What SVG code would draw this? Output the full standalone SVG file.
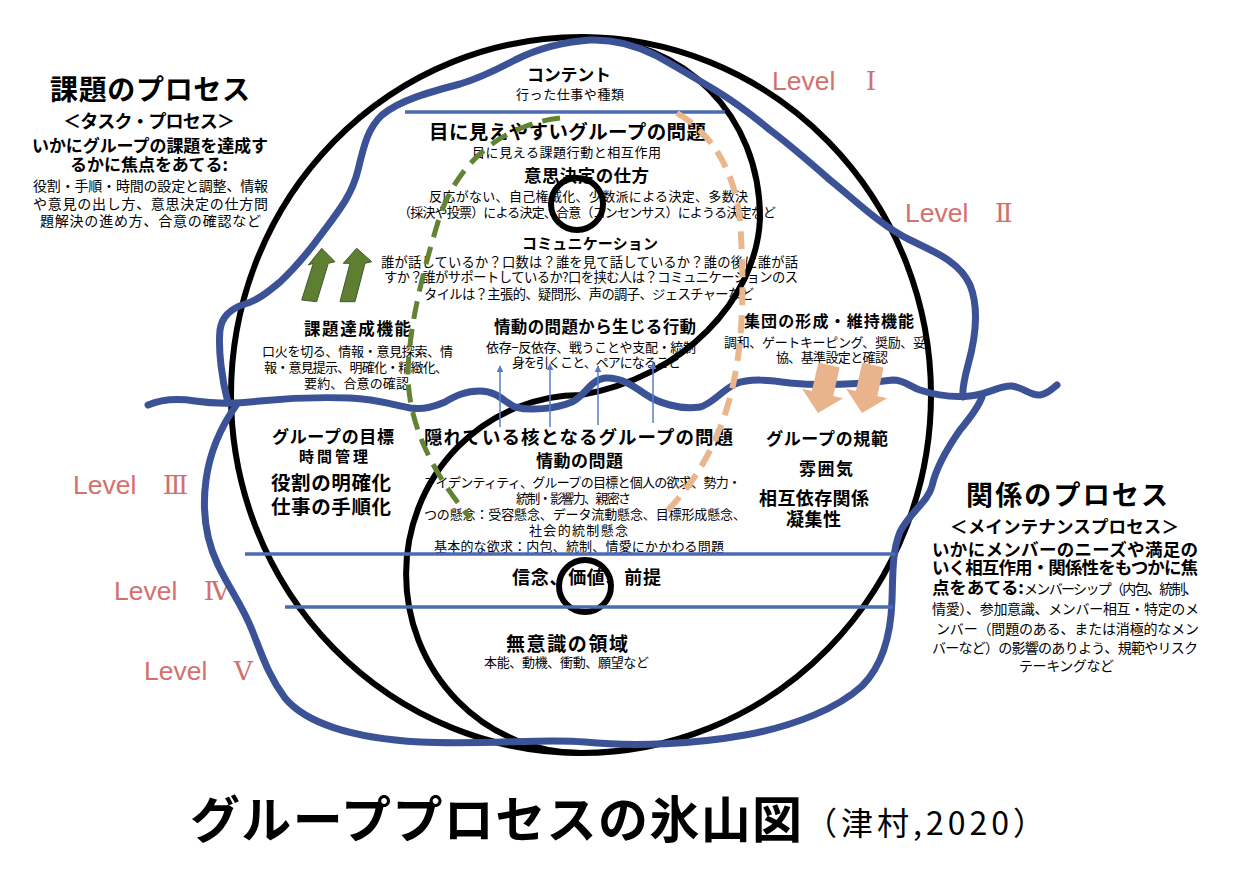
<svg xmlns="http://www.w3.org/2000/svg" width="1244" height="871" viewBox="0 0 1244 871">
<defs>
<style>
.t{font-family:"Noto Sans CJK JP","Noto Sans CJK SC",sans-serif;fill:#000;}
.b{font-weight:700;}
.lv{font-family:"Liberation Sans","Noto Sans CJK JP",sans-serif;fill:#D4706C;font-size:26.5px;}
.rn{font-family:"DejaVu Serif","Liberation Serif","Noto Sans CJK JP",serif;}
.blk{fill:none;stroke:#000;stroke-width:6;}
.wave{fill:none;stroke:#3B5396;stroke-width:7;stroke-linecap:round;stroke-linejoin:round;}
.hl{stroke:#4D6BB5;stroke-width:3.5;}
.thin{stroke:#5A7CC8;stroke-width:1.5;marker-end:url(#ah);}
.gd{fill:none;stroke:#628234;stroke-width:5;stroke-dasharray:18 10;}
.od{fill:none;stroke:#EAB78C;stroke-width:6;stroke-dasharray:18 10;}
.ga{fill:#5E7F32;stroke:#41592A;stroke-width:1;}
.oa{fill:#E9B48B;stroke:none;}
</style>
<marker id="ah" viewBox="0 0 10 10" refX="9" refY="5" markerWidth="7" markerHeight="7" orient="auto" markerUnits="userSpaceOnUse">
<path d="M0,0 L10,5 L0,10 z" fill="#5A7CC8"/>
</marker>
</defs>
<rect width="1244" height="871" fill="#fff"/>

<g id="task-process" class="t">
<text x="50" y="100" class="b" font-size="28" textLength="200">課題のプロセス</text>
<text x="63" y="128" class="b" font-size="18" textLength="172">＜タスク・プロセス＞</text>
<text x="32" y="152" class="b" font-size="17" textLength="236">いかにグループの課題を達成す</text>
<text x="70" y="171" class="b" font-size="17" textLength="158">るかに焦点をあてる:</text>
<text x="33" y="191" font-size="14" textLength="235">役割・手順・時間の設定と調整、情報</text>
<text x="33" y="209" font-size="14" textLength="235">や意見の出し方、意思決定の仕方問</text>
<text x="40" y="226" font-size="14" textLength="221">題解決の進め方、合意の確認など</text>
</g>

<g id="content" class="t">
<text x="527" y="81" class="b" font-size="17" textLength="84">コンテント</text>
<text x="516" y="99" font-size="13" textLength="108">行った仕事や種類</text>
</g>

<g id="visible-issues" class="t">
<text x="429" y="139" class="b" font-size="19.5" textLength="277">目に見えやすいグループの問題</text>
<text x="472" y="157" font-size="13" textLength="189">目に見える課題行動と相互作用</text>
<text x="524" y="182" class="b" font-size="17.5" textLength="125">意思決定の仕方</text>
<text x="429" y="201" font-size="13" textLength="319">反応がない、自己権威化、少数派による決定、多数決</text>
<text x="398" y="217" font-size="13" textLength="378">（採決や投票）による決定、合意（コンセンサス）にようる決定など</text>
</g>

<g id="communication" class="t">
<text x="522" y="249" class="b" font-size="15" textLength="136">コミュニケーション</text>
<text x="381" y="267" font-size="13.3" textLength="417">誰が話しているか？口数は？誰を見て話しているか？誰の後に誰が話</text>
<text x="384" y="282" font-size="13.3" textLength="414">すか？誰がサポートしているか?口を挟む人は？コミュニケーションのス</text>
<text x="424" y="299" font-size="13.3" textLength="330">タイルは？主張的、疑問形、声の調子、ジェスチャーなど</text>
</g>

<g id="emotional-behavior" class="t">
<text x="494" y="333" class="b" font-size="16.5" textLength="202">情動の問題から生じる行動</text>
<text x="486" y="352" font-size="13" textLength="210">依存−反依存、戦うことや支配・統制</text>
<text x="512" y="367" font-size="13" textLength="169">身を引くこと、ペアになること</text>
</g>

<g id="task-functions" class="t">
<text x="304" y="335" class="b" font-size="16.5" textLength="107">課題達成機能</text>
<text x="262" y="356" font-size="13" textLength="191">口火を切る、情報・意見探索、情</text>
<text x="264" y="372" font-size="13" textLength="184">報・意見提示、明確化・精緻化、</text>
<text x="304" y="388" font-size="13" textLength="105">要約、合意の確認</text>
</g>

<g id="maintenance-functions" class="t">
<text x="744" y="327" class="b" font-size="16" textLength="170">集団の形成・維持機能</text>
<text x="724" y="347" font-size="13" textLength="202">調和、ゲートキーピング、奨励、妥</text>
<text x="776" y="362" font-size="13" textLength="112">協、基準設定と確認</text>
</g>

<g id="hidden-issues" class="t">
<text x="424" y="444" class="b" font-size="18.5" textLength="309">隠れている核となるグループの問題</text>
<text x="536" y="467" class="b" font-size="17" textLength="87">情動の問題</text>
<text x="424" y="487" font-size="13" textLength="317">アイデンティティ、グループの目標と個人の欲求、勢力・</text>
<text x="516" y="503" font-size="13" textLength="115">統制・影響力、親密さ</text>
<text x="424" y="519" font-size="13" textLength="322">つの懸念：受容懸念、データ流動懸念、目標形成懸念、</text>
<text x="529" y="535" font-size="13" textLength="99">社会的統制懸念</text>
<text x="434" y="551" font-size="13" textLength="290">基本的な欲求：内包、統制、情愛にかかわる問題</text>
</g>

<g id="group-goal" class="t">
<text x="272" y="443" class="b" font-size="17" textLength="122">グループの目標</text>
<text x="299" y="462" class="b" font-size="15" textLength="69">時間管理</text>
<text x="271" y="490" class="b" font-size="19.5" textLength="120">役割の明確化</text>
<text x="271" y="514" class="b" font-size="19.5" textLength="120">仕事の手順化</text>
</g>

<g id="group-norms" class="t">
<text x="766" y="445" class="b" font-size="17" textLength="122">グループの規範</text>
<text x="799" y="475" class="b" font-size="17" textLength="54">雰囲気</text>
<text x="759" y="505" class="b" font-size="18" textLength="110">相互依存関係</text>
<text x="786" y="526" class="b" font-size="18" textLength="55">凝集性</text>
</g>

<g id="beliefs" class="t">
<text x="512" y="584" class="b" font-size="18" textLength="149">信念、価値、前提</text>
</g>

<g id="unconscious" class="t">
<text x="506" y="651" class="b" font-size="19" textLength="122">無意識の領域</text>
<text x="484" y="667" font-size="13" textLength="165">本能、動機、衝動、願望など</text>
</g>

<g id="relation-process" class="t">
<text x="966" y="505" class="b" font-size="27" textLength="202">関係のプロセス</text>
<text x="950" y="533" class="b" font-size="17.5" textLength="229">＜メインテナンスプロセス＞</text>
<text x="932" y="556" class="b" font-size="17.5" textLength="266">いかにメンバーのニーズや満足の</text>
<text x="932" y="574" class="b" font-size="17.5" textLength="266">いく相互作用・関係性をもつかに焦</text>
<text y="594"><tspan x="932" class="b" font-size="17.5" textLength="92">点をあてる:</tspan><tspan x="1024" font-size="14" textLength="174">メンバーシップ（内包、統制、</tspan></text>
<text x="932" y="614" font-size="14" textLength="267">情愛）、参加意識、メンバー相互・特定のメ</text>
<text x="936" y="634" font-size="14" textLength="263">ンバー（問題のある、または消極的なメン</text>
<text x="932" y="653" font-size="14" textLength="266">バーなど）の影響のありよう、規範やリスク</text>
<text x="1019" y="671" font-size="14" textLength="95">テーキングなど</text>
</g>

<g id="levels">
<text class="lv" x="772" y="90">Level　<tspan class="rn" dx="4">Ⅰ</tspan></text>
<text class="lv" x="905" y="222">Level　<tspan class="rn">Ⅱ</tspan></text>
<text class="lv" x="73" y="494">Level　<tspan class="rn">Ⅲ</tspan></text>
<text class="lv" x="114" y="600">Level　<tspan class="rn">Ⅳ</tspan></text>
<text class="lv" x="144" y="680">Level　<tspan class="rn">Ⅴ</tspan></text>
</g>

<g id="title" class="t">
<text x="190" y="838" class="b" font-size="50" textLength="612">グループプロセスの氷山図</text>
<text x="805" y="835" font-size="32" textLength="240">（津村,2020）</text>
</g>

<g id="circle">
<ellipse class="blk" cx="581" cy="395" rx="350" ry="358"/>
<path class="blk" d="M581,37 C685,40 760,115 760,218 C757,300 682,378 581,395 A175 179 0 0 0 581,753"/>
<circle class="blk" cx="577" cy="204" r="26" stroke-width="5"/>
<circle class="blk" cx="585" cy="586" r="26" stroke-width="5"/>
</g>

<g id="iceberg">
<path class="wave" d="M228,403 C222,380 218,350 220,330 C222,315 232,308 245,304 C258,300 268,292 280,282 C295,268 310,250 323,232 C338,212 352,195 358,170 C364,145 368,128 382,115 C400,100 430,92 460,84 C480,78 500,68 515,60 C535,50 560,42 590,40 C615,39 635,45 655,55 C675,66 695,78 715,90 C735,102 752,115 770,130 C790,145 805,158 830,180 C855,200 880,225 910,240 C935,252 960,262 970,285 C980,310 975,340 968,365 C964,380 962,390 963,397"/>
<path class="wave" d="M148,405 C160,400 175,398 195,401 C215,404 235,404 260,401 C290,398 320,397 350,398 C375,399 390,404 410,408 C425,410 435,406 445,402 C455,396 465,391 480,391 C498,391 505,403 515,407 C530,411 555,409 572,402 C585,396 590,380 605,378 C620,377 632,385 645,394 C658,403 680,410 700,407 C712,404 720,392 735,384 C750,378 770,380 790,383 C820,386 860,384 893,380 C905,380 910,387 920,390 C935,395 950,398 970,396 C990,394 1000,385 1012,386 C1025,388 1030,396 1040,395 C1048,394 1052,389 1057,385"/>
<path class="wave" d="M237,404 C222,425 210,450 206,480 C202,510 206,540 218,565 C230,590 242,605 252,630 C262,655 268,675 285,698 C305,722 350,738 420,742 C490,745 545,738 585,742 C635,747 695,744 745,735 C795,726 838,708 862,686 C884,664 891,632 892,600 C893,572 892,552 900,532 C910,512 928,502 932,486 C936,468 946,450 960,430 C970,418 978,408 982,397"/>
<line class="hl" x1="405" y1="112" x2="725" y2="112"/>
<line class="hl" x1="245" y1="554" x2="895" y2="554"/>
<line class="hl" x1="285" y1="607" x2="893" y2="607"/>
</g>

<g id="connectors">
<path class="gd" d="M560,118 C500,125 455,165 438,222 C425,265 410,320 408,370 C407,420 430,470 470,518"/>
<path class="od" d="M677,113 C715,135 735,175 740,220 C745,290 742,340 735,375 C725,430 700,480 660,518"/>
<line class="thin" x1="500" y1="427" x2="500" y2="366"/>
<line class="thin" x1="550" y1="427" x2="550" y2="364"/>
<line class="thin" x1="598" y1="425" x2="598" y2="366"/>
<line class="thin" x1="653" y1="423" x2="653" y2="363"/>
<polygon class="ga" points="321.7,248.3 335,261.7 328.3,263.3 316.7,301.7 301.7,300 313.3,263.3 308.3,265"/>
<polygon class="ga" points="356.7,248.3 371.7,261.7 365,263.3 355,301.7 340,301.7 350,263.3 343.3,263.3"/>
<polygon class="oa" points="818.3,362.5 839.7,367.5 833.3,396 843.1,398.3 818,413 802.1,388.7 811.9,391"/>
<polygon class="oa" points="862.3,362.5 883.7,367.5 877.3,396 887.1,398.3 862,413 846.1,388.7 855.9,391"/>
</g>
</svg>
